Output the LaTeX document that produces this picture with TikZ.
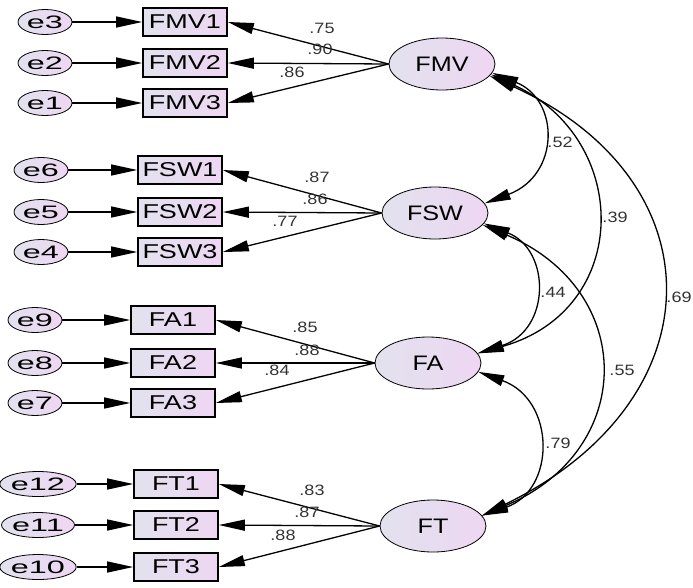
\documentclass[tikz,border=0pt]{standalone}
\usepackage{fontspec}
\newfontfamily\amos[FakeStretch=1.2]{Liberation Sans}
\newfontfamily\amosbox[FakeStretch=1.35]{Liberation Sans}
\newfontfamily\amoswide[FakeStretch=1.8]{Liberation Sans}
\usetikzlibrary{shapes.geometric,arrows.meta}
\definecolor{amosL}{RGB}{226,226,238}
\definecolor{amosR}{RGB}{238,214,242}
\tikzset{>={Triangle[length=26pt,width=11pt]},
  latent/.style={ellipse,draw,thick,left color=amosL,right color=amosR,
    minimum width=106pt,minimum height=52pt,inner sep=0pt,
    font=\amos\fontsize{21}{21}\selectfont},
  item/.style={rectangle,draw,line width=1.6pt,left color=amosL,right color=amosR,
    minimum width=84pt,minimum height=28pt,inner sep=0pt,
    font=\amosbox\fontsize{20}{20}\selectfont},
  err/.style={ellipse,draw,thick,left color=amosL,right color=amosR,
    minimum width=54pt,minimum height=25pt,inner sep=0pt,
    font=\amoswide\fontsize{18}{18}\selectfont},
  load/.style={->,line width=1.3pt},
  cov/.style={<->,line width=1.3pt},
  wt/.style={font=\amos\fontsize{15}{15}\selectfont,text=black!80,inner sep=0pt}
}

\begin{document}
\begin{tikzpicture}[x=1pt,y=-1pt]
\useasboundingbox (0,0) rectangle (693,587);
% latent factors
\node[latent] (FMV) at (442,64) {FMV};
\node[latent] (FSW) at (435,213) {FSW};
\node[latent] (FA) at (428,363) {FA};
\node[latent] (FT) at (433,526) {FT};
% indicators
\node[item] (FMV1) at (185,22) {FMV1};
\node[item] (FMV2) at (185,63) {FMV2};
\node[item] (FMV3) at (185,103) {FMV3};
\node[item] (FSW1) at (180,170) {FSW1};
\node[item] (FSW2) at (180,212) {FSW2};
\node[item] (FSW3) at (180,252) {FSW3};
\node[item] (FA1) at (173,320) {FA1};
\node[item] (FA2) at (173,363) {FA2};
\node[item] (FA3) at (173,403) {FA3};
\node[item] (FT1) at (176,484) {FT1};
\node[item] (FT2) at (176,525) {FT2};
\node[item] (FT3) at (176,567) {FT3};
% errors
\node[err] (e3) at (45,22) {e3};
\node[err] (e2) at (45,63) {e2};
\node[err] (e1) at (45,103) {e1};
\node[err] (e6) at (41,170) {e6};
\node[err] (e5) at (41,212) {e5};
\node[err] (e4) at (41,252) {e4};
\node[err] (e9) at (35,320) {e9};
\node[err] (e8) at (35,363) {e8};
\node[err] (e7) at (35,403) {e7};
\node[err] (e12) at (38,484) {e12};
\node[err] (e11) at (38,525) {e11};
\node[err] (e10) at (38,567) {e10};
\draw[load] (e3) -- (FMV1);
\draw[load] (e2) -- (FMV2);
\draw[load] (e1) -- (FMV3);
\draw[load] (e6) -- (FSW1);
\draw[load] (e5) -- (FSW2);
\draw[load] (e4) -- (FSW3);
\draw[load] (e9) -- (FA1);
\draw[load] (e8) -- (FA2);
\draw[load] (e7) -- (FA3);
\draw[load] (e12) -- (FT1);
\draw[load] (e11) -- (FT2);
\draw[load] (e10) -- (FT3);
% loadings
\draw[load] (FMV.west) -- (FMV1.east);
\draw[load] (FMV.west) -- (FMV2.east);
\draw[load] (FMV.west) -- (FMV3.east);
\draw[load] (FSW.west) -- (FSW1.east);
\draw[load] (FSW.west) -- (FSW2.east);
\draw[load] (FSW.west) -- (FSW3.east);
\draw[load] (FA.west) -- (FA1.east);
\draw[load] (FA.west) -- (FA2.east);
\draw[load] (FA.west) -- (FA3.east);
\draw[load] (FT.west) -- (FT1.east);
\draw[load] (FT.west) -- (FT2.east);
\draw[load] (FT.west) -- (FT3.east);
\node[wt] (lFMV1) at (322,28) {.75};
\node[wt] (lFMV2) at (320,49) {.90};
\node[wt] (lFMV3) at (292,72) {.86};
\node[wt] (lFSW1) at (317,177) {.87};
\node[wt] (lFSW2) at (315,199) {.86};
\node[wt] (lFSW3) at (285,221) {.77};
\node[wt] (lFA1) at (305,327) {.85};
\node[wt] (lFA2) at (307,350) {.88};
\node[wt] (lFA3) at (277,370) {.84};
\node[wt] (lFT1) at (312,490) {.83};
\node[wt] (lFT2) at (307,512) {.87};
\node[wt] (lFT3) at (283,535) {.88};
% covariances
\draw[cov] (FMV.-10) .. controls (560,100) and (560,175) .. (FSW.11);
\draw[cov] (FMV.-12) .. controls (632,140) and (632,310) .. (FA.11);
\draw[cov] (FMV.-14) .. controls (719,180) and (719,400) .. (FT.12);
\draw[cov] (FSW.-12) .. controls (551,250) and (551,330) .. (FA.11);
\draw[cov] (FSW.-14) .. controls (637,290) and (637,450) .. (FT.12);
\draw[cov] (FA.-10) .. controls (556,400) and (556,490) .. (FT.12);
\node[wt] (cFMVFSW) at (560,142) {.52};
\node[wt] (cFMVFA) at (615,217) {.39};
\node[wt] (cFMVFT) at (679,297) {.69};
\node[wt] (cFSWFA) at (553,292) {.44};
\node[wt] (cFSWFT) at (622,370) {.55};
\node[wt] (cFAFT) at (558,443) {.79};
\end{tikzpicture}
\end{document}
